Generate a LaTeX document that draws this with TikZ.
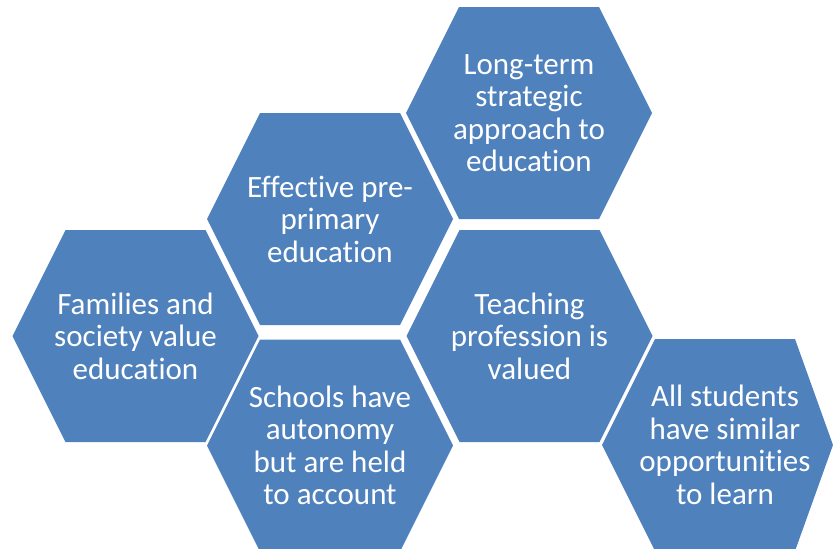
\documentclass[tikz,border=0pt]{standalone}
\usepackage{fontspec}
\setmainfont[Ligatures=NoCommon]{Carlito}
\usepackage{xcolor}
\definecolor{hexblue}{RGB}{79,129,189}

% flat-topped hexagon with its label: [right reach] {name}{x}{y}{text}
\newcommand{\hexcell}[5][123]{%
  \fill[hexblue] (#3-123,#4) -- (#3-70,#4-106) -- (#3+70,#4-106)
    -- (#3+#1,#4) -- (#3+70,#4+106) -- (#3-70,#4+106) -- cycle;
  \node[hexlabel] (#2) at (#3,#4) {#5};}

\begin{document}
\begin{tikzpicture}[x=1pt,y=-1pt,
  hexlabel/.style={text=white,align=center,inner sep=0pt,font=\fontsize{31}{32.5}\selectfont}]
\useasboundingbox (0,0) rectangle (836,549);
\hexcell{longterm}{529}{113}{Long-term\\strategic\\approach to\\education}
\hexcell{preprimary}{330}{219}{Effective pre-\\primary\\education}
\hexcell{families}{135.5}{336}{Families and\\society value\\education}
\hexcell{teaching}{529.5}{336}{Teaching\\profession is\\valued}
\hexcell{schools}{330}{445.5}{Schools have\\autonomy\\but are held\\to account}
\hexcell[108]{students}{725}{445}{All students\\have similar\\opportunities\\to learn}
\end{tikzpicture}
\end{document}
